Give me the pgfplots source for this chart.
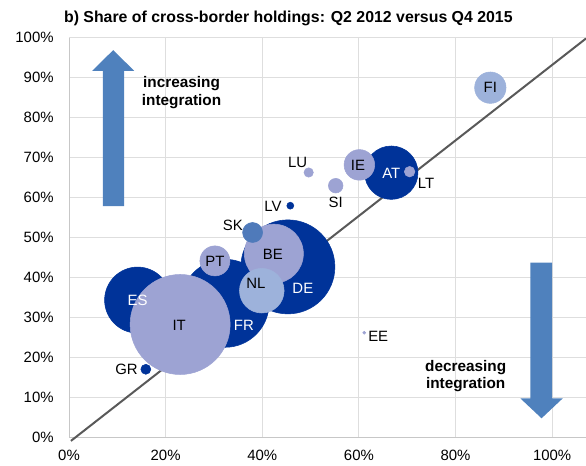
\documentclass[border=0pt]{standalone}
\usepackage{fontspec}
\setmainfont{Liberation Sans}
\usepackage{pgfplots}
\usepackage{pgfplotstable}
\pgfplotsset{compat=1.18}

\definecolor{darkb}{RGB}{0,51,153}
\definecolor{lavb}{RGB}{157,163,211}
\definecolor{lightb}{RGB}{157,178,219}
\definecolor{midb}{RGB}{79,122,186}
\definecolor{arrowc}{RGB}{79,129,189}
\definecolor{diag}{RGB}{89,89,89}

% x = Q2 2012 share, y = Q4 2015 share (percent), r = bubble radius in px
\pgfplotstableread{
c  x    y     r
FR 32.3 33.6  44
DE 45.3 42.7  47
ES 14.2 34.4  33
AT 66.7 66.25 26.7
LV 45.8 58.0  3.5
GR 15.9 17.1  5
}\darkdata
\pgfplotstableread{
c  x    y     r
IT 23.0 28.3  50
PT 30.2 44.2  15
BE 42.4 46.0  29.5
IE 60.1 68.2  15.3
LU 49.6 66.3  4.7
SI 55.2 63.0  7.3
LT 70.5 66.5  5.3
EE 61.1 26.25 1.5
}\lavdata
\pgfplotstableread{
c  x    y     r
NL 39.9 36.75 22.3
FI 87.2 87.5  15.7
}\lightdata
\pgfplotstableread{
c  x    y     r
SK 38.0 51.3  10
}\middata

\pgfplotsset{bubble/.style={scatter, only marks, mark=*,
  scatter/use mapped color={draw=#1, fill=#1},
  visualization depends on={\thisrow{r} \as \rad},
  scatter/@pre marker code/.append style={/tikz/mark size=0.75*\rad}}}

\begin{document}
\begin{tikzpicture}
\begin{axis}[name=ax, set layers, scale only axis, width=387.75pt, height=300pt,
  xmin=0, xmax=107, ymin=0, ymax=100, clip=false,
  axis lines*=left, axis line style={draw=black!22, line width=0.75pt},
  tick style={draw=none},
  xmajorgrids, ymajorgrids, grid style={draw=black!13, line width=0.75pt},
  xtick={0,20,...,100}, xticklabels={0\%,20\%,40\%,60\%,80\%,100\%},
  ytick={0,10,...,100},
  yticklabels={0\%,10\%,20\%,30\%,40\%,50\%,60\%,70\%,80\%,90\%,100\%},
  ticklabel style={font=\fontsize{11.2}{13}\selectfont},
  yticklabel style={xshift=-8pt},
  xticklabel style={yshift=-6pt}]

\fill[arrowc] (axis cs:7.0,57.9) -- (axis cs:11.4,57.9) -- (axis cs:11.4,91.7)
  -- (axis cs:13.5,91.7) -- (axis cs:9.15,96.9) -- (axis cs:4.8,91.7)
  -- (axis cs:7.0,91.7) -- cycle;
\fill[arrowc] (axis cs:95.5,43.75) -- (axis cs:100,43.75) -- (axis cs:100,9.85)
  -- (axis cs:102.2,9.85) -- (axis cs:97.8,4.85) -- (axis cs:93.4,9.85)
  -- (axis cs:95.5,9.85) -- cycle;

\addplot[bubble=darkb] table[x=x,y=y] {\darkdata};
\addplot[bubble=lavb] table[x=x,y=y] {\lavdata};
\addplot[bubble=lightb] table[x=x,y=y] {\lightdata};
\addplot[bubble=midb] table[x=x,y=y] {\middata};

\addplot[diag, line width=1.5pt, no marks] coordinates {(0.4,-0.8) (107,99.8)};

\begin{pgfonlayer}{axis foreground}
\begin{scope}[every node/.style={font=\fontsize{11.2}{13}\selectfont, inner sep=0pt}]
\node[white] at (axis cs:14.2,34.4) {ES};
\node at (axis cs:22.8,28.2) {IT};
\node[white] at (axis cs:36.2,28.2) {FR};
\node[white] at (axis cs:48.4,37.4) {DE};
\node at (axis cs:42.2,45.9) {BE};
\node at (axis cs:38.7,38.7) {NL};
\node at (axis cs:30.2,44.2) {PT};
\node at (axis cs:33.9,53.2) {SK};
\node at (axis cs:42.2,57.75) {LV};
\node at (axis cs:47.3,68.75) {LU};
\node at (axis cs:11.9,17.1) {GR};
\node at (axis cs:87.2,87.5) {FI};
\node at (axis cs:59.8,68.2) {IE};
\node[white] at (axis cs:66.7,66.1) {AT};
\node at (axis cs:73.9,63.6) {LT};
\node at (axis cs:55.2,58.85) {SI};
\node at (axis cs:64.0,25.25) {EE};
\end{scope}
\node[font=\bfseries\fontsize{11.5}{13.3}\selectfont, align=center]
  at (axis cs:23.3,86.2) {increasing\\integration};
\node[font=\bfseries\fontsize{11.5}{13.3}\selectfont, align=center]
  at (axis cs:82.1,15.4) {decreasing\\integration};
\node[font=\bfseries\fontsize{11.9}{13}\selectfont]
  at (axis cs:45.4,104.7) {b) Share of cross-border holdings: Q2 2012 versus Q4 2015};
\end{pgfonlayer}
\end{axis}
\pgfresetboundingbox
\path[use as bounding box] ([shift={(-51.75pt,-21.225pt)}]ax.south west)
  rectangle ([shift={(0pt,28.275pt)}]ax.north east);
\end{tikzpicture}
\end{document}
